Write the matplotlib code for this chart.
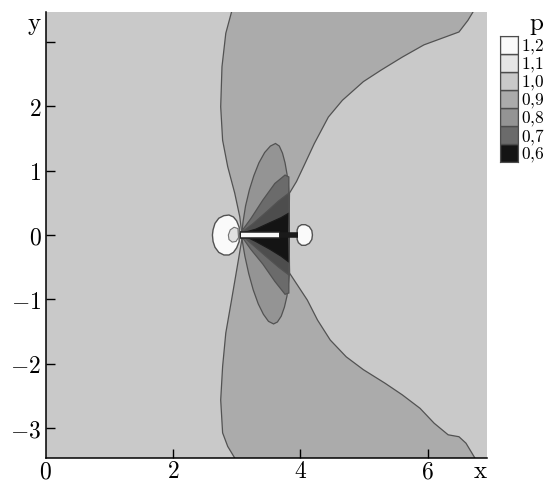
import matplotlib.pyplot as plt
import numpy as np

plt.rcParams['mathtext.fontset'] = 'cm'

# pressure-level colours (grey shades), legend levels
levels = ['0,6', '0,7', '0,8', '0,9', '1,0', '1,1', '1,2']
level_grey = ['0.08', '0.42', '0.58', '0.67', '0.79', '0.90', '0.98']

# boundary of the 0.9-1.0 zone (x, y)
band_left_y = [3.46, 3.13, 2.61, 1.99, 1.47, 1.06, 0.65, 0.28, 0.03, -0.08, -0.49, -1.01, -1.52, -2.04, -2.56, -3.07, -3.28, -3.46]
band_left_x = [2.92, 2.83, 2.77, 2.75, 2.78, 2.86, 2.97, 3.05, 3.08, 3.08, 3.01, 2.92, 2.83, 2.78, 2.75, 2.78, 2.86, 2.97]
band_right_y = [-3.46, -3.23, -3.13, -3.10, -2.92, -2.69, -2.48, -2.30, -2.09, -1.89, -1.63, -1.32, -1.01, -0.80, -0.59, 0.0,
                0.65, 0.83, 1.06, 1.42, 1.83, 2.09, 2.38, 2.56, 2.76, 2.95, 3.07, 3.15, 3.33, 3.46]
band_right_x = [6.74, 6.60, 6.49, 6.32, 6.10, 5.88, 5.60, 5.33, 4.99, 4.72, 4.47, 4.27, 4.11, 3.97, 3.83, 3.82,
                3.83, 3.94, 4.05, 4.22, 4.44, 4.66, 4.99, 5.27, 5.60, 5.94, 6.27, 6.49, 6.63, 6.71]

# 0.8-0.9 zone (the ellipse)
ell_x = [3.08, 3.10, 3.14, 3.20, 3.27, 3.35, 3.44, 3.53, 3.61, 3.67, 3.72, 3.76, 3.79, 3.81, 3.82,
         3.83, 3.81, 3.79, 3.75, 3.70, 3.64, 3.58, 3.50, 3.42, 3.34, 3.26, 3.19, 3.13, 3.09]
ell_y = [0.0, 0.20, 0.45, 0.70, 0.92, 1.12, 1.28, 1.38, 1.42, 1.38, 1.27, 1.12, 0.95, 0.80, 0.65,
         -0.59, -0.78, -0.95, -1.12, -1.26, -1.35, -1.38, -1.34, -1.23, -1.07, -0.85, -0.60, -0.33, -0.10]

# fan zones from the leading edge: 0.7-0.8, 0.6-0.7, <0.6
fan07_x = [3.05, 3.22, 3.41, 3.60, 3.76, 3.82, 3.82, 3.76, 3.60, 3.41, 3.22]
fan07_y = [0.02, 0.25, 0.54, 0.80, 0.93, 0.90, -0.90, -0.92, -0.72, -0.45, -0.22]
fan06_x = [3.05, 3.25, 3.47, 3.66, 3.82, 3.82, 3.66, 3.47, 3.25]
fan06_y = [0.02, 0.17, 0.36, 0.53, 0.65, -0.62, -0.50, -0.34, -0.15]
fan05_x = [3.05, 3.30, 3.52, 3.70, 3.82, 3.82, 3.70, 3.52, 3.30]
fan05_y = [0.02, 0.09, 0.19, 0.27, 0.34, -0.42, -0.33, -0.22, -0.10]

# high-pressure bubbles at the plate ends
lead_x = [3.04, 3.00, 2.95, 2.88, 2.80, 2.72, 2.66, 2.63, 2.62, 2.63, 2.66, 2.72, 2.80, 2.88, 2.95, 3.00, 3.04]
lead_y = [0.12, 0.22, 0.28, 0.31, 0.30, 0.26, 0.18, 0.08, 0.0, -0.10, -0.19, -0.27, -0.31, -0.31, -0.27, -0.20, -0.10]
lead_in_x = [3.02, 2.96, 2.90, 2.87, 2.88, 2.93, 2.99, 3.03]
lead_in_y = [0.10, 0.12, 0.08, 0.0, -0.07, -0.11, -0.10, -0.04]
trail_x = [3.95, 3.97, 4.02, 4.08, 4.14, 4.18, 4.19, 4.18, 4.14, 4.08, 4.02, 3.97, 3.95]
trail_y = [0.08, 0.13, 0.16, 0.16, 0.13, 0.07, 0.0, -0.07, -0.13, -0.16, -0.16, -0.12, -0.07]

# plate
plate_x0, plate_xm, plate_x1 = 3.05, 3.68, 3.96

line_c = '0.32'
fig = plt.figure(figsize=(5.54, 4.82), dpi=100)
ax = fig.add_axes([45.5 / 554, 24 / 482, 441.5 / 554, 446 / 482])
ax.set_facecolor(level_grey[4])
ax.set_xlim(0, 6.93)
ax.set_ylim(-3.46, 3.46)

# 0.9-1.0 zone
bx = np.concatenate([band_left_x, band_right_x])
by = np.concatenate([band_left_y, band_right_y])
ax.fill(bx, by, color=level_grey[3], lw=0)
ax.plot(band_left_x, band_left_y, color=line_c, lw=0.9)
ax.plot(band_right_x, band_right_y, color=line_c, lw=0.9)

ax.fill(ell_x, ell_y, facecolor=level_grey[2], edgecolor=line_c, lw=0.9)
ax.fill(fan07_x, fan07_y, facecolor=level_grey[1], edgecolor=line_c, lw=0.9)
ax.fill(fan06_x, fan06_y, facecolor='0.30', edgecolor=line_c, lw=0.9)
ax.fill(fan05_x, fan05_y, facecolor=level_grey[0], edgecolor='0.1', lw=0.9)

ax.fill(lead_x, lead_y, facecolor=level_grey[6], edgecolor=line_c, lw=1.0)
ax.fill(lead_in_x, lead_in_y, facecolor='0.88', edgecolor='0.45', lw=0.8)
ax.fill(trail_x, trail_y, facecolor=level_grey[6], edgecolor=line_c, lw=1.0)

ax.plot([plate_xm, plate_x1], [0, 0], color='0.1', lw=4, solid_capstyle='butt')
ax.plot([plate_x0, plate_xm], [0, 0], color='0.15', lw=5.5, solid_capstyle='butt')
ax.plot([plate_x0 + 0.02, plate_xm - 0.02], [0, 0], color='0.98', lw=3.2, solid_capstyle='butt')

# axes styling
for s in ['top', 'right']:
    ax.spines[s].set_visible(False)
for s in ['left', 'bottom']:
    ax.spines[s].set_linewidth(1.1)
ax.tick_params(direction='in', length=6.5, width=1.0, labelsize=17)
ax.tick_params(axis='x', pad=1)
ax.tick_params(axis='y', pad=3)
ax.set_xticks([0, 2, 4, 6])
ax.set_xticklabels([r'$0$', r'$2$', r'$4$', r'$6$'])
ax.set_yticks([-3, -2, -1, 0, 1, 2, 3])
ax.set_yticklabels([r'$-3$', r'$-2$', r'$-1$', r'$0$', r'$1$', r'$2$', ''])
ax.get_xticklines()[0].set_visible(False)
fig.text(42 / 554, 1 - 25 / 482, r'$\mathrm{y}$', fontsize=18, ha='right', va='center')
fig.text(480 / 554, 1 - 471 / 482, r'$\mathrm{x}$', fontsize=18, ha='center', va='center')

# legend bar
cb = fig.add_axes([500 / 554, (482 - 162) / 482, 18 / 554, 126 / 482])
cb.bar(np.zeros(7), np.ones(7), bottom=np.arange(7), width=1, color=level_grey, edgecolor='0.3', lw=1.0)
cb.set_xlim(-0.5, 0.5)
cb.set_ylim(0, 7)
cb.set_xticks([])
cb.yaxis.tick_right()
cb.set_yticks(np.arange(7) + 0.5)
cb.set_yticklabels(['$' + l.replace(',', '{,}') + '$' for l in levels])
cb.tick_params(axis='y', length=0, labelsize=12.5, pad=2)
for s in cb.spines.values():
    s.set_edgecolor('0.3')
fig.text(537 / 554, 1 - 25 / 482, r'$\mathrm{p}$', fontsize=18, ha='center', va='center')

fig.savefig('out.png', dpi=100)
